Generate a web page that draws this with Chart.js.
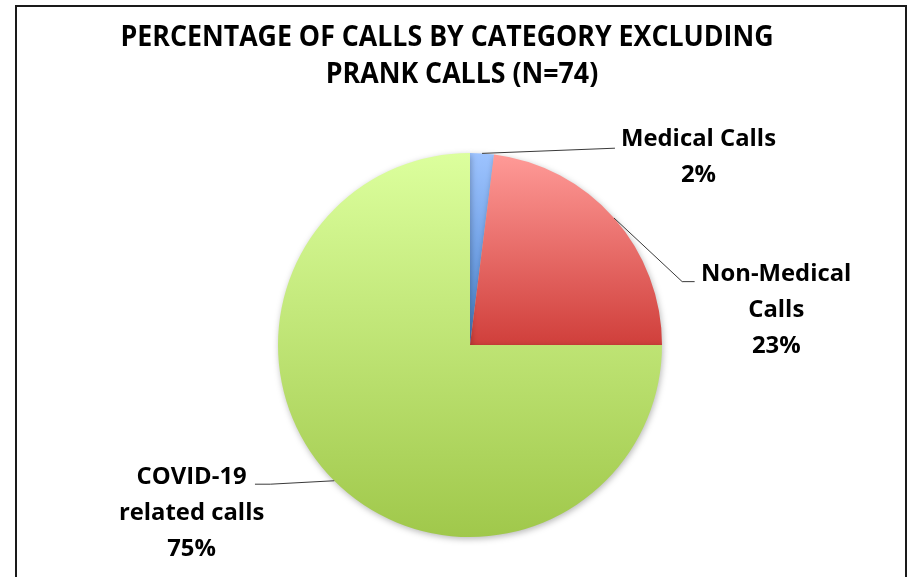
<!DOCTYPE html>
<html>
<head>
<meta charset="utf-8">
<script src="https://cdn.jsdelivr.net/npm/chart.js@4/dist/chart.umd.min.js"></script>
<style>
  html, body { margin: 0; padding: 0; background: #fff; overflow: hidden; }
  #wrap { position: relative; width: 911px; height: 577px; }
</style>
</head>
<body>
<div id="wrap"><canvas id="callsChart" width="911" height="577"></canvas></div>
<script>
// data
const categories = ['Medical Calls', 'Non-Medical Calls', 'COVID-19 related calls'];
const percentages = [2, 23, 75];
const labelLines = [['Medical Calls', '2%'], ['Non-Medical', 'Calls', '23%'], ['COVID-19', 'related calls', '75%']];
const titleLines = ['PERCENTAGE OF CALLS BY CATEGORY EXCLUDING', 'PRANK CALLS (N=74)'];

// top / bottom colours of each slice gradient
const topColors = ['#9dc3ff', '#ff9a97', '#dcff9d'];
const bottomColors = ['#4a84cf', '#d03f3b', '#a0c84b'];

// label placement, relative to the pie centre in radius units
const labelSpots = [
  { x: 1.19, y: -1.035, line: [[0.755, -1.025]] },
  { x: 1.595, y: -0.335, line: [[1.105, -0.33], [1.17, -0.33]] },
  { x: -1.45, y: 0.725, line: [[-1.04, 0.725], [-1.12, 0.725]] }
];

function sliceGradient(context) {
  const chart = context.chart;
  const area = chart.chartArea;
  const i = context.dataIndex;
  if (!area) return topColors[i];
  const cx = (area.left + area.right) / 2;
  const cy = (area.top + area.bottom) / 2;
  const r = Math.min(area.right - area.left, area.bottom - area.top) / 2;
  const total = percentages.reduce((s, v) => s + v, 0);
  const before = percentages.slice(0, i).reduce((s, v) => s + v, 0);
  const a0 = -Math.PI / 2 + before / total * 2 * Math.PI;
  const a1 = a0 + percentages[i] / total * 2 * Math.PI;
  // vertical extent of the slice
  let minY = cy, maxY = cy;
  for (let k = 0; k <= 90; k++) {
    const py = cy + Math.sin(a0 + (a1 - a0) * k / 90) * r;
    minY = Math.min(minY, py);
    maxY = Math.max(maxY, py);
  }
  const g = chart.ctx.createLinearGradient(0, minY, 0, maxY);
  g.addColorStop(0, topColors[i]);
  g.addColorStop(1, bottomColors[i]);
  return g;
}

function drawSquashed(ctx, text, x, y, scaleX) {
  ctx.save();
  ctx.translate(x, y);
  ctx.scale(scaleX, 1);
  ctx.fillText(text, 0, 0);
  ctx.restore();
}

const TITLE_FONT = 'bold 28px "Open Sans"';
const LABEL_FONT = 'bold 23px "Open Sans"';

const decorPlugin = {
  id: 'decor',
  beforeDraw(chart) {
    const ctx = chart.ctx;
    ctx.save();
    ctx.fillStyle = '#fff';
    ctx.fillRect(0, 0, chart.width, chart.height);
    ctx.strokeStyle = '#1a1a1a';
    ctx.lineWidth = 2;
    ctx.strokeRect(16, 6, 890, 620);
    // title, narrowed to the width it has in the picture
    ctx.fillStyle = '#000';
    ctx.textAlign = 'center';
    ctx.textBaseline = 'alphabetic';
    ctx.font = TITLE_FONT;
    const sx = 653 / ctx.measureText(titleLines[0]).width;
    drawSquashed(ctx, titleLines[0], 447, 46, sx);
    drawSquashed(ctx, titleLines[1], 462, 83, sx);
    ctx.restore();
  },
  beforeDatasetsDraw(chart) {
    const ctx = chart.ctx;
    ctx.save();
    ctx.shadowColor = 'rgba(0,0,0,0.28)';
    ctx.shadowBlur = 6;
    ctx.shadowOffsetX = 1;
    ctx.shadowOffsetY = 2;
  },
  afterDatasetsDraw(chart) {
    const ctx = chart.ctx;
    ctx.restore();
    const meta = chart.getDatasetMeta(0);
    ctx.save();
    ctx.font = LABEL_FONT;
    const sx = 155 / ctx.measureText(labelLines[0][0]).width;
    meta.data.forEach((arc, i) => {
      const { x, y, startAngle, endAngle, outerRadius: r } = arc.getProps(['x', 'y', 'startAngle', 'endAngle', 'outerRadius'], true);
      const mid = (startAngle + endAngle) / 2;
      const spot = labelSpots[i];
      // leader line from the middle of the slice edge
      ctx.strokeStyle = '#3a3a3a';
      ctx.lineWidth = 1;
      ctx.beginPath();
      ctx.moveTo(x + Math.cos(mid) * r, y + Math.sin(mid) * r);
      spot.line.forEach(p => ctx.lineTo(x + p[0] * r, y + p[1] * r));
      ctx.stroke();
      // label text
      ctx.fillStyle = '#000';
      ctx.textAlign = 'center';
      ctx.textBaseline = 'alphabetic';
      labelLines[i].forEach((t, k) => {
        drawSquashed(ctx, t, x + spot.x * r, y + spot.y * r + k * 36, sx);
      });
    });
    ctx.restore();
  }
};

const ctx = document.getElementById('callsChart').getContext('2d');
const callsChart = new Chart(ctx, {
  type: 'pie',
  data: {
    labels: categories,
    datasets: [{
      data: percentages,
      backgroundColor: sliceGradient,
      borderWidth: 0,
      hoverOffset: 0
    }]
  },
  options: {
    responsive: false,
    animation: false,
    events: [],
    layout: { padding: { left: 278, right: 249, top: 153, bottom: 40 } },
    plugins: {
      legend: { display: false },
      title: { display: false },
      tooltip: { enabled: false }
    }
  },
  plugins: [decorPlugin]
});
</script>
</body>
</html>
